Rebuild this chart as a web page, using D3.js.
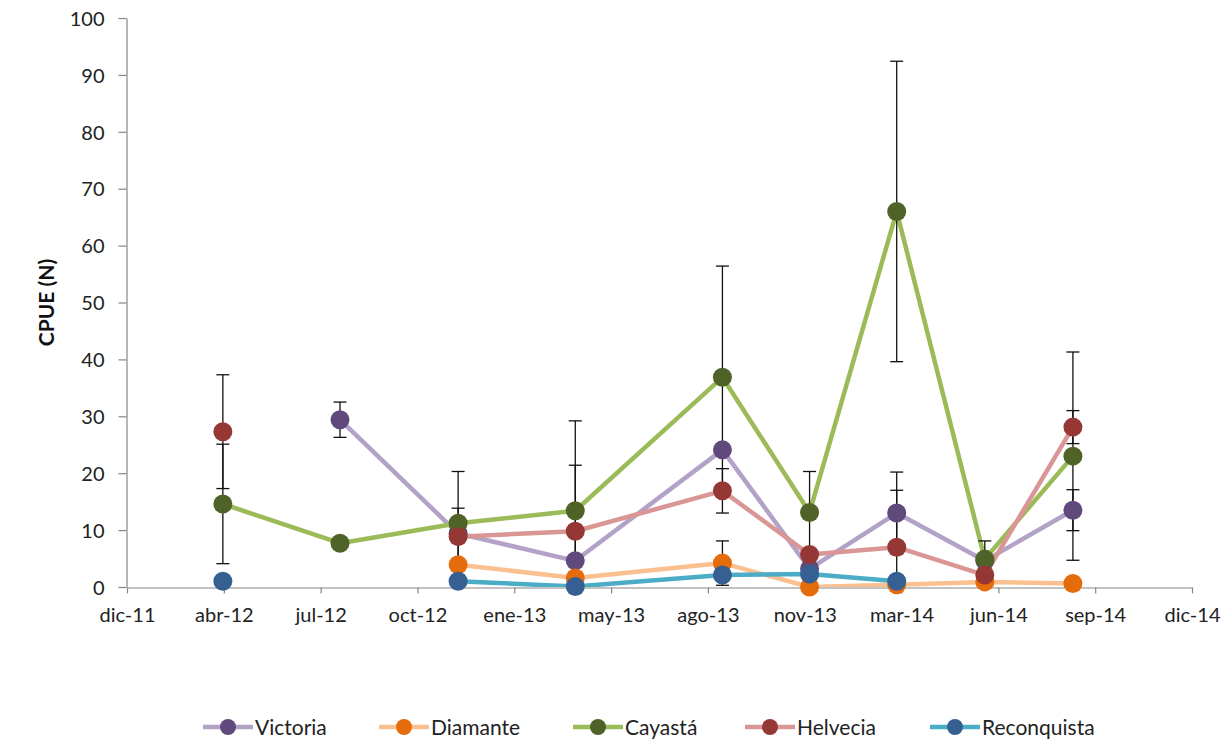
<!DOCTYPE html>
<html>
<head>
<meta charset="utf-8">
<script src="https://cdn.jsdelivr.net/npm/d3@7"></script>
<style>
  html, body { margin: 0; padding: 0; background: #fff; }
  svg { display: block; font-family: Lato, "Open Sans", sans-serif; }
</style>
</head>
<body>
<svg id="chart" width="1225" height="743"></svg>
<script>
// Sampling dates (one per campaign)
const sampleDates = ["2012-04-01", "2012-07-31", "2012-11-30", "2013-03-31", "2013-08-30",
                     "2013-11-28", "2014-02-26", "2014-05-28", "2014-08-27"];

// CPUE (N) means per site; null = no sample
const victoria    = [null, 29.4, 9.4, 4.6, 24.1, 3.2, 13.0, 4.6, 13.5];
const diamante    = [null, null, 3.9, 1.6, 4.2, 0.0, 0.4, 0.9, 0.6];
const cayasta     = [14.6, 7.7, 11.2, 13.4, 36.85, 13.1, 66.0, 4.9, 23.0];
const helvecia    = [27.3, null, 8.85, 9.8, 16.9, 5.7, 7.0, 2.1, 28.1];
const reconquista = [1.0, null, 1.0, 0.1, 2.1, 2.3, 1.0, null, null];

// Error (± value) per site; null = no bar
const victoriaErr    = [null, 3.1, null, null, null, null, 7.2, null, 3.6];
const diamanteErr    = [null, null, null, null, 3.9, null, null, null, null];
const cayastaErr     = [10.5, null, 9.1, 15.8, 19.55, 7.2, 26.4, 3.2, 18.3];
const helveciaErr    = [10.0, null, 5.0, 11.6, 3.9, null, 10.0, null, 2.9];
const reconquistaErr = [null, null, null, null, null, null, null, null, null];

// Axis ticks
const axisStart = "2011-12-24";
const tickStepDays = 100;
const tickLabels = ["dic-11", "abr-12", "jul-12", "oct-12", "ene-13", "may-13",
                    "ago-13", "nov-13", "mar-14", "jun-14", "sep-14", "dic-14"];
const yTicks = [0, 10, 20, 30, 40, 50, 60, 70, 80, 90, 100];

const seriesNames  = ["Victoria", "Diamante", "Cayastá", "Helvecia", "Reconquista"];
const seriesValues = [victoria, diamante, cayasta, helvecia, reconquista];
const seriesErrors = [victoriaErr, diamanteErr, cayastaErr, helveciaErr, reconquistaErr];
const lineColors   = ["#B3A2C7", "#FAC090", "#9BBB59", "#D99694", "#4BACC6"];
const markerColors = ["#604A7B", "#E46C0A", "#4F6228", "#953735", "#376092"];

const parse = d3.timeParse("%Y-%m-%d");
const start = parse(axisStart);
const tickDates = tickLabels.map((_, i) => d3.timeDay.offset(start, i * tickStepDays));

const plotLeft = 127, plotRight = 1192, plotTop = 18, plotBottom = 587;
const x = d3.scaleTime().domain([tickDates[0], tickDates[tickDates.length - 1]]).range([plotLeft, plotRight]);
const y = d3.scaleLinear().domain([0, 100]).range([plotBottom, plotTop]);

const svg = d3.select("#chart");
svg.append("rect").attr("width", 1225).attr("height", 743).attr("fill", "#fff");

const dates = sampleDates.map(parse);
const series = seriesNames.map((name, s) => ({
  name,
  line: lineColors[s],
  marker: markerColors[s],
  points: dates.map((d, i) => ({ date: d, value: seriesValues[s][i], err: seriesErrors[s][i] }))
}));

svg.append("defs").append("clipPath").attr("id", "plot")
  .append("rect").attr("x", plotLeft - 12).attr("y", plotTop - 12)
  .attr("width", plotRight - plotLeft + 24).attr("height", plotBottom - plotTop + 12);

// Axes
const axisColor = "#868686";
const yAxis = svg.append("g").attr("transform", `translate(${plotLeft - 0.5},0)`)
  .call(d3.axisLeft(y).tickValues(yTicks).tickSize(8).tickSizeOuter(0).tickPadding(14));
const xAxis = svg.append("g").attr("transform", `translate(0,${plotBottom + 0.5})`)
  .call(d3.axisBottom(x).tickValues(tickDates).tickSize(6).tickSizeOuter(0)
    .tickFormat((d, i) => tickLabels[i]).tickPadding(14));
[xAxis, yAxis].forEach(g => {
  g.select(".domain").attr("stroke", axisColor).attr("stroke-width", 1.2);
  g.selectAll(".tick line").attr("stroke", axisColor).attr("stroke-width", 1.2);
  g.selectAll(".tick text").attr("fill", "#222").style("font-size", "20px")
    .style("font-family", "Lato, sans-serif");
});
yAxis.selectAll(".tick text").attr("dy", "0.36em");
xAxis.selectAll(".tick text").attr("dy", "0.71em");

// Axis title
svg.append("text")
  .attr("transform", `translate(54,${(plotTop + plotBottom) / 2}) rotate(-90)`)
  .attr("text-anchor", "middle")
  .style("font-size", "21px").style("font-weight", "bold").attr("fill", "#111")
  .text("CPUE (N)");

const plot = svg.append("g").attr("clip-path", "url(#plot)");

// Lines
const lineGen = d3.line()
  .defined(p => p.value != null)
  .x(p => x(p.date)).y(p => y(p.value));
series.forEach(s => {
  plot.append("path").datum(s.points)
    .attr("d", lineGen)
    .attr("fill", "none").attr("stroke", s.line)
    .attr("stroke-width", 4.5).attr("stroke-linejoin", "round").attr("stroke-linecap", "round");
});

// Error bars (clipped at the x axis)
const capHalf = 6.5;
series.forEach(s => {
  const eb = s.points.filter(p => p.value != null && p.err != null);
  const g = plot.append("g").attr("stroke", "#111").attr("stroke-width", 1.3).attr("fill", "none");
  eb.forEach(p => {
    const cx = x(p.date);
    const hi = y(p.value + p.err), lo = y(p.value - p.err);
    g.append("line").attr("x1", cx).attr("x2", cx).attr("y1", hi).attr("y2", Math.min(lo, plotBottom));
    g.append("line").attr("x1", cx - capHalf).attr("x2", cx + capHalf).attr("y1", hi).attr("y2", hi);
    if (lo <= plotBottom) {
      g.append("line").attr("x1", cx - capHalf).attr("x2", cx + capHalf).attr("y1", lo).attr("y2", lo);
    }
  });
});

// Markers (drawn in full, even on the axis)
series.forEach(s => {
  svg.append("g").selectAll("circle")
    .data(s.points.filter(p => p.value != null))
    .join("circle")
    .attr("cx", p => x(p.date)).attr("cy", p => y(p.value))
    .attr("r", 9.5).attr("fill", s.marker);
});

// Legend
const legendX = [228, 404, 598, 770, 955];
const legendY = 727;
const legend = svg.append("g");
series.forEach((s, i) => {
  const g = legend.append("g").attr("transform", `translate(${legendX[i]},${legendY})`);
  g.append("line").attr("x1", -25).attr("x2", 25).attr("stroke", s.line).attr("stroke-width", 4.5);
  g.append("circle").attr("r", 8).attr("fill", s.marker);
  g.append("text").attr("x", 27).attr("dy", "0.36em")
    .style("font-size", "21px").attr("fill", "#222").text(s.name);
});
</script>
</body>
</html>
